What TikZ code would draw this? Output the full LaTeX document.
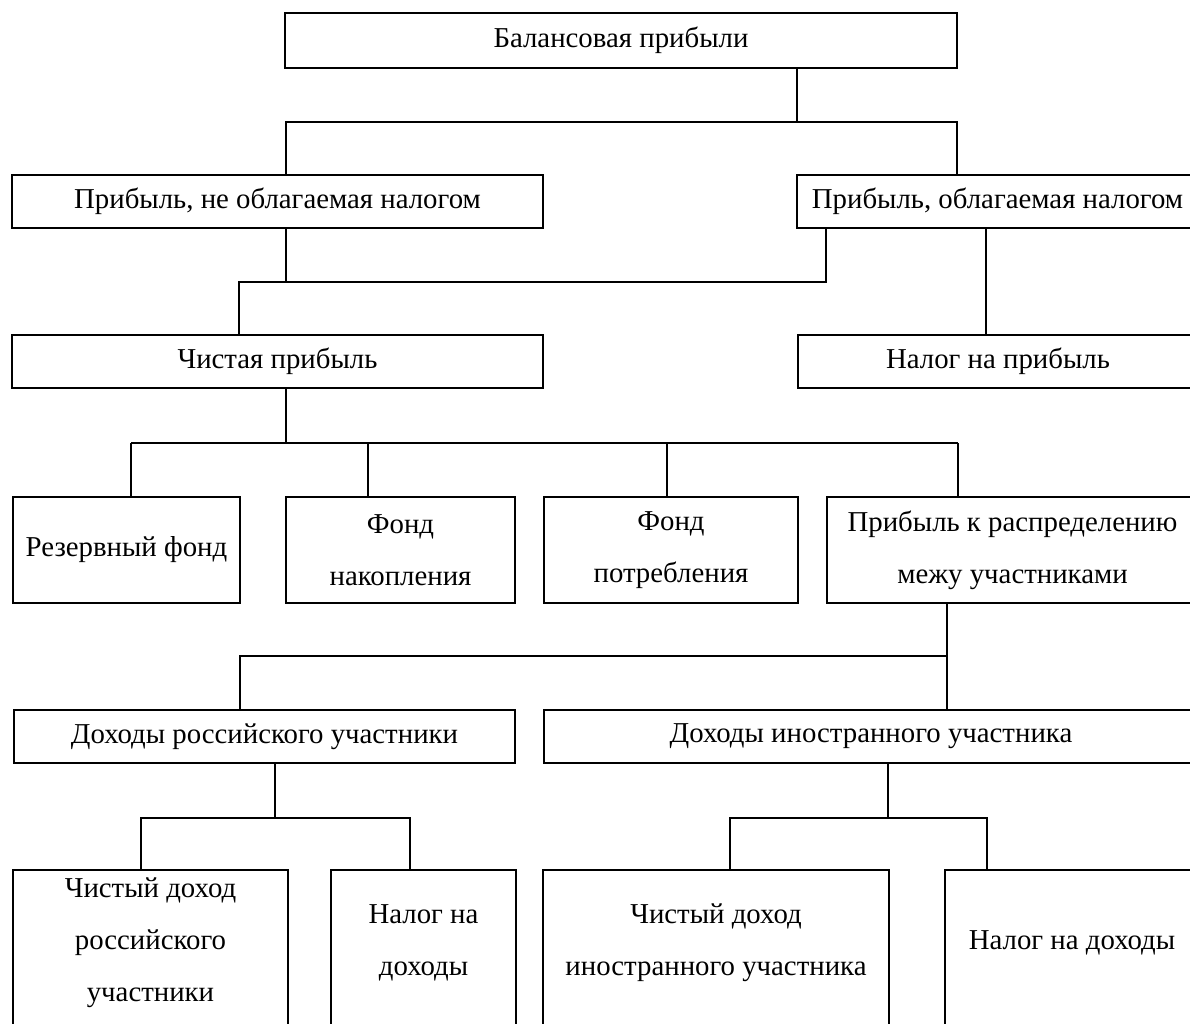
\documentclass[tikz,border=0pt]{standalone}
\usepackage{fontspec}
\setmainfont{Liberation Serif}
\usepackage{tikz}

\begin{document}
\begin{tikzpicture}[x=0.02cm, y=-0.02cm,
    box/.style={draw, line width=0.9pt, rectangle, inner sep=2pt, align=center,
        font=\fontsize{16.4pt}{29.5pt}\selectfont},
    openbox/.style={box, draw=none},
    link/.style={line width=0.7pt}]
        \useasboundingbox (0,0) rectangle (1190,1024);
        \clip (0,0) rectangle (1190,1024);

        % Уровень 1-3
        \node[box, minimum width=13.44cm, minimum height=1.1cm] (bal) at (621,40.5) {Балансовая прибыли};
        \node[box, minimum width=10.62cm, minimum height=1.06cm] (notax) at (277.5,201.5) {Прибыль, не облагаемая налогом};
        \node[box, minimum width=8.02cm, minimum height=1.06cm] (tax) at (997.5,201.5) {Прибыль, облагаемая налогом};
        \node[box, minimum width=10.62cm, minimum height=1.06cm] (net) at (277.5,361.5) {Чистая прибыль};
        \node[box, minimum width=8cm, minimum height=1.06cm] (taxp) at (998,361.5) {Налог на прибыль};

        % Фонды
        \node[box, minimum width=4.54cm, minimum height=2.12cm] (res) at (126.5,550) {Резервный фонд};
        \node[box, minimum width=4.58cm, minimum height=2.12cm] (acc) at (400.5,550) {Фонд\\накопления};
        \node[box, minimum width=5.08cm, minimum height=2.12cm] (cons) at (671,550) {Фонд\\потребления};
        \node[box, minimum width=7.42cm, minimum height=2.12cm] (dist) at (1012.5,550) {Прибыль к распределению\\межу участниками};

        % Доходы участников
        \node[box, minimum width=10.02cm, minimum height=1.06cm] (rus) at (264.5,736.5) {Доходы российского участники};
        \node[box, minimum width=13.08cm, minimum height=1.06cm] (frn) at (871,736.5) {Доходы иностранного участника};

        \node[openbox, minimum width=5.46cm, minimum height=2.88cm] (rusnet) at (150.5,943) {Чистый доход\\российского\\участники};
        \node[openbox, minimum width=3.66cm, minimum height=2.88cm] (rustax) at (423.5,943) {Налог на\\доходы};
        \node[openbox, minimum width=6.88cm, minimum height=2.88cm] (frnnet) at (716,943) {Чистый доход\\иностранного участника};
        \node[openbox, minimum width=5.04cm, minimum height=2.88cm] (frntax) at (1072,943) {Налог на доходы};
        \foreach \n in {rusnet, rustax, frnnet, frntax}
            \draw[line width=0.9pt] ([yshift=-1cm]\n.south west) |- (\n.north east) -- ([yshift=-1cm]\n.south east);

        % Точки ветвления
        \coordinate (b1m) at (797,122);
        \coordinate (b1l) at (286,122);
        \coordinate (b1r) at (957,122);
        \coordinate (b2l) at (239,282);
        \coordinate (b2m) at (286,282);
        \coordinate (b2r) at (826,282);
        \coordinate (b3) at (986,282);
        \coordinate (b4m) at (286,443);
        \coordinate (b4a) at (131,443);
        \coordinate (b4b) at (368,443);
        \coordinate (b4c) at (667,443);
        \coordinate (b4d) at (958,443);
        \coordinate (b5l) at (240,656);
        \coordinate (b5r) at (947,656);
        \coordinate (b6m) at (275,818);
        \coordinate (b6l) at (141,818);
        \coordinate (b6r) at (410,818);
        \coordinate (b7m) at (888,818);
        \coordinate (b7l) at (730,818);
        \coordinate (b7r) at (987,818);

        % Связи
        \draw[link] (b1m |- bal.south) -- (b1m);
        \draw[link] (b1l |- notax.north) -- (b1l) -- (b1r) -- (b1r |- tax.north);

        \draw[link] (b2m |- notax.south) -- (b2m);
        \draw[link] (b2l |- net.north) -- (b2l) -- (b2r) -- (b2r |- tax.south);
        \draw[link] (b3 |- tax.south) -- (b3 |- taxp.north);

        \draw[link] (b4m |- net.south) -- (b4m);
        \draw[link] (b4a) -- (b4d);
        \foreach \b/\n in {b4a/res, b4b/acc, b4c/cons, b4d/dist}
            \draw[link] (\b) -- (\b |- \n.north);

        \draw[link] (b5r |- dist.south) -- (b5r |- frn.north);
        \draw[link] (b5r) -- (b5l) -- (b5l |- rus.north);

        \draw[link] (b6m |- rus.south) -- (b6m);
        \draw[link] (b6l |- rusnet.north) -- (b6l) -- (b6r) -- (b6r |- rustax.north);
        \draw[link] (b7m |- frn.south) -- (b7m);
        \draw[link] (b7l |- frnnet.north) -- (b7l) -- (b7r) -- (b7r |- frntax.north);
    \end{tikzpicture}
\end{document}
